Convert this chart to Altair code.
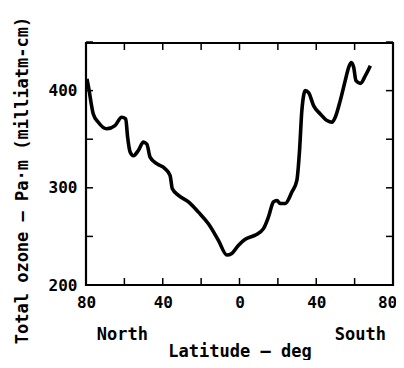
import altair as alt
import pandas as pd

# Latitude: negative = North, positive = South
lat = [-79.5, -78.8, -76.2, -73.6, -69.2, -64.9, -61.4, -59.3, -58.3, -57.0, -55.3,
       -52.7, -50.1, -48.3, -46.6, -43.1, -38.8, -36.2, -35.0, -31.8, -26.6, -21.4,
       -16.2, -11.0, -6.6, -4.0, -0.5, 3.0, 8.2, 12.5, 15.1, 17.7, 19.5, 21.2, 23.8,
       27.3, 29.9, 31.3, 32.5, 34.3, 36.0, 38.6, 42.1, 45.6, 48.2, 49.9, 52.5, 55.1,
       56.9, 58.3, 59.5, 60.7, 63.0, 65.6, 68.2]
ozone = [412, 405, 376, 367.5, 360.7, 364, 372.6, 371, 352, 336.8, 333,
         338.5, 347, 345, 331.6, 324.8, 319.7, 312.8, 299, 292.3, 285.5, 275,
         263, 246, 230.8, 232.5, 241, 247, 251.3, 258, 270, 285.5, 287, 283.8, 283.8,
         295.7, 307.7, 338.5, 379.5, 400, 398, 384.6, 376, 369.2, 367.5, 372.6, 389.7, 410.3,
         424, 429, 424, 410.3, 407.5, 415.4, 425.6]

x_ticks = [-80, -60, -40, -20, 0, 20, 40, 60, 80]
x_labels = [-80, -40, 0, 40, 80]
y_ticks = [200, 250, 300, 350, 400, 450]
y_labels = [200, 300, 400]
hemis = ["North", "South"]
hemis_lat = [-61, 63]

W, H = 307, 242
FONT = "DejaVu Sans Mono"

df = pd.DataFrame({"lat": lat, "ozone": ozone})
xt = pd.DataFrame({"t": x_ticks})
yt = pd.DataFrame({"t": y_ticks})
hd = pd.DataFrame({"name": hemis, "lat": hemis_lat})

xscale = alt.Scale(domain=[-80, 80], nice=False)
yscale = alt.Scale(domain=[200, 449], nice=False, zero=False)

line = alt.Chart(df).mark_line(color="black", strokeWidth=3.6, interpolate="monotone").encode(
    x=alt.X("lat:Q", scale=xscale,
            axis=alt.Axis(values=x_labels, labelExpr="abs(datum.value)", ticks=False, domain=False,
                          grid=False, labelFont=FONT, labelFontSize=16, labelFontWeight="bold",
                          labelColor="black", labelPadding=9, labelFlush=False,
                          labelOffset={"condition": {"test": "datum.value == 80", "value": -6},
                                       "value": 0},
                          title="Latitude — deg", titleFont=FONT, titleFontSize=17,
                          titleFontWeight="bold", titleColor="black", titleY=71,
                          titleBaseline="alphabetic")),
    y=alt.Y("ozone:Q", scale=yscale,
            axis=alt.Axis(values=y_labels, ticks=False, domain=False, grid=False,
                          labelFont=FONT, labelFontSize=16, labelFontWeight="bold",
                          labelColor="black", labelPadding=9,
                          title="Total ozone — Pa·m (milliatm-cm)", titleFont=FONT,
                          titleFontSize=17, titleFontWeight="bold", titleColor="black",
                          titleX=-59, titleY=137, titleAngle=270, titleAlign="center",
                          titleBaseline="alphabetic")),
)

tick_len = 7
bx = alt.Chart(xt).mark_rule(color="black", strokeWidth=1.5).encode(
    x=alt.X("t:Q", scale=xscale), y=alt.value(H), y2=alt.value(H - tick_len))
tx = alt.Chart(xt).mark_rule(color="black", strokeWidth=1.5).encode(
    x=alt.X("t:Q", scale=xscale), y=alt.value(0), y2=alt.value(tick_len))
ly = alt.Chart(yt).mark_rule(color="black", strokeWidth=1.5).encode(
    y=alt.Y("t:Q", scale=yscale), x=alt.value(0), x2=alt.value(tick_len))
ry = alt.Chart(yt).mark_rule(color="black", strokeWidth=1.5).encode(
    y=alt.Y("t:Q", scale=yscale), x=alt.value(W), x2=alt.value(W - tick_len))

hem = alt.Chart(hd).mark_text(font=FONT, fontSize=17, fontWeight="bold", color="black",
                              baseline="alphabetic", align="center").encode(
    x=alt.X("lat:Q", scale=xscale), y=alt.value(H + 55), text="name:N")

chart = alt.layer(line, bx, tx, ly, ry, hem).properties(
    width=W, height=H,
    padding={"left": 78, "top": 35, "right": 3, "bottom": 75},
    autosize=alt.AutoSizeParams(type="none"),
    background="white",
).configure_view(stroke="black", strokeWidth=2.2)

chart.save("out.html", embed_options={"renderer": "svg", "actions": False})
